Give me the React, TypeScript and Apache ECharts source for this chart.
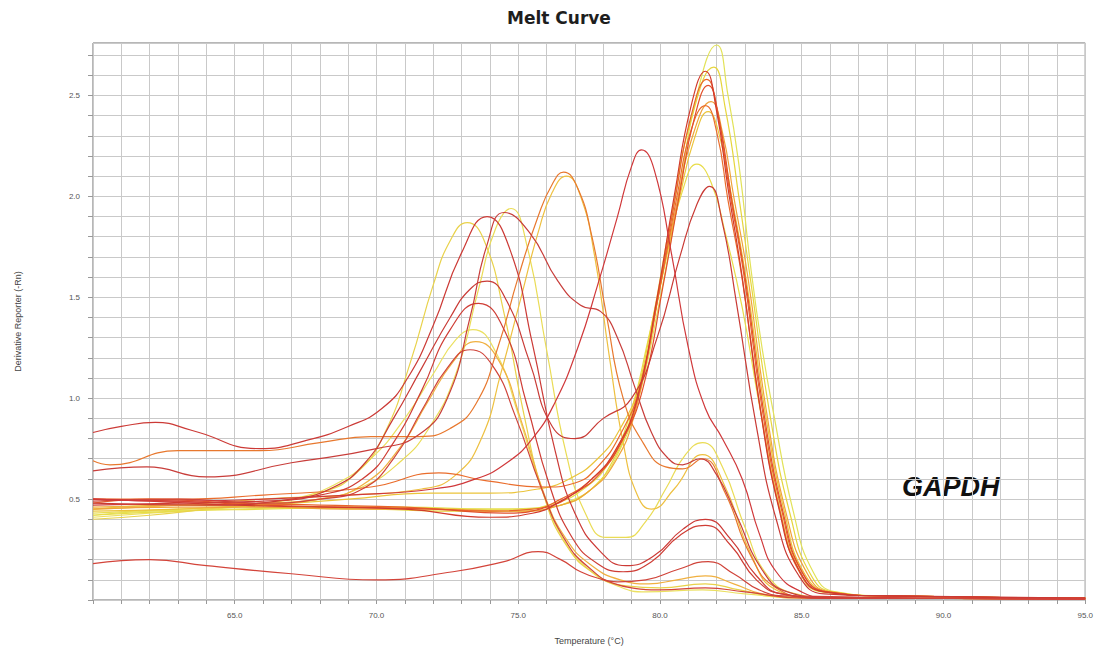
import React, { useEffect, useRef } from "react";
import * as echarts from "echarts";

type Pt = [number, number];

// ---- data: [temperature °C, derivative reporter] ----
const gapdhA: Pt[] = [[60,0.42],[62,0.44],[65,0.45],[68,0.46],[71,0.46],[74,0.45],[76,0.46],[77,0.5],[77.8,0.58],[78.5,0.72],[79.2,0.98],[79.9,1.42],[80.6,1.95],[81.3,2.5],[82.0,2.75],[82.4,2.5],[82.8,2.14],[83.2,1.65],[83.6,1.25],[84.0,0.93],[84.7,0.44],[85.4,0.14],[86.2,0.04],[88,0.02],[95,0.01]];
const gapdhB: Pt[] = [[60,0.45],[63,0.47],[66,0.46],[70,0.45],[73,0.44],[75,0.44],[76.5,0.47],[77.5,0.54],[78.3,0.68],[79.0,0.92],[79.7,1.36],[80.4,1.9],[81.1,2.38],[81.9,2.64],[82.3,2.44],[82.8,1.98],[83.2,1.58],[83.9,0.9],[84.6,0.42],[85.3,0.13],[86.1,0.04],[88,0.02],[95,0.01]];
const gapdhC: Pt[] = [[60,0.5],[62,0.49],[65,0.47],[68,0.46],[71,0.45],[74,0.41],[75.5,0.43],[76.5,0.49],[77.6,0.6],[78.5,0.76],[79.2,1.0],[79.9,1.5],[80.5,2.0],[81.1,2.45],[81.6,2.62],[82.0,2.42],[82.4,2.04],[82.9,1.6],[83.5,0.98],[84.2,0.45],[84.9,0.15],[85.8,0.04],[88,0.02],[95,0.01]];
const gapdhD: Pt[] = [[60,0.48],[62,0.5],[65,0.48],[68,0.47],[71,0.46],[74,0.44],[75.5,0.45],[76.5,0.5],[77.6,0.6],[78.5,0.75],[79.2,0.99],[79.9,1.48],[80.5,1.96],[81.1,2.4],[81.65,2.58],[82.05,2.4],[82.45,2.03],[82.95,1.62],[83.6,0.95],[84.3,0.44],[85.0,0.14],[85.9,0.04],[88,0.02],[95,0.01]];
const gapdhE: Pt[] = [[60,0.5],[63,0.49],[66,0.47],[69,0.46],[72,0.45],[74.5,0.43],[76,0.46],[77,0.53],[77.9,0.63],[78.7,0.8],[79.4,1.05],[80.1,1.55],[80.7,2.02],[81.2,2.38],[81.7,2.55],[82.1,2.37],[82.5,2.01],[83.0,1.6],[83.65,0.94],[84.35,0.43],[85.05,0.13],[85.9,0.04],[88,0.02],[95,0.01]];
const gapdhF: Pt[] = [[60,0.45],[63,0.46],[66,0.46],[69,0.45],[72,0.45],[75,0.44],[76.5,0.47],[77.5,0.54],[78.4,0.68],[79.1,0.92],[79.8,1.4],[80.5,1.9],[81.2,2.32],[81.8,2.47],[82.2,2.32],[82.6,2.0],[83.1,1.6],[83.75,0.94],[84.45,0.43],[85.2,0.13],[86,0.04],[88,0.02],[95,0.01]];
const gapdhG: Pt[] = [[60,0.5],[63,0.5],[66,0.52],[69.8,0.56],[72.2,0.63],[73.9,0.59],[76.0,0.56],[77.0,0.58],[77.8,0.66],[78.6,0.82],[79.3,1.06],[80.0,1.55],[80.6,2.0],[81.1,2.33],[81.6,2.45],[82.0,2.32],[82.4,1.98],[82.9,1.59],[83.55,0.94],[84.25,0.43],[84.95,0.13],[85.8,0.04],[88,0.02],[95,0.01]];
const gapdhH: Pt[] = [[60,0.44],[63,0.45],[66,0.47],[69,0.5],[71.9,0.53],[74,0.53],[75.7,0.55],[76.8,0.6],[77.8,0.7],[78.6,0.85],[79.3,1.08],[80.0,1.55],[80.7,2.0],[81.2,2.28],[81.7,2.42],[82.1,2.3],[82.55,1.98],[83.05,1.58],[83.7,0.94],[84.4,0.43],[85.1,0.13],[86,0.04],[88,0.02],[95,0.01]];
const gapdhI: Pt[] = [[60,0.42],[63,0.44],[66,0.45],[70,0.46],[73,0.45],[75,0.45],[76.3,0.48],[77.3,0.55],[78.2,0.68],[78.9,0.9],[79.6,1.3],[80.3,1.75],[80.8,2.03],[81.3,2.16],[81.8,2.07],[82.3,1.82],[82.9,1.45],[83.5,0.97],[84.2,0.47],[84.9,0.15],[85.7,0.04],[88,0.02],[95,0.01]];
const doubleJ: Pt[] = [[60,0.48],[64,0.47],[67,0.5],[68.5,0.56],[69.6,0.68],[70.6,0.9],[71.6,1.15],[72.6,1.4],[73.3,1.54],[73.9,1.58],[74.6,1.48],[75.4,1.18],[76.2,0.86],[77.0,0.8],[78.0,0.9],[79.0,1.0],[79.9,1.3],[80.7,1.7],[81.3,1.96],[81.75,2.05],[82.2,1.87],[82.7,1.47],[83.4,0.86],[84.1,0.4],[84.9,0.12],[85.8,0.03],[88,0.02],[95,0.01]];
const dimerA: Pt[] = [[60,0.40],[62,0.42],[64,0.45],[66,0.48],[68,0.53],[69.3,0.63],[70.3,0.83],[71.2,1.18],[72.0,1.56],[72.6,1.78],[73.2,1.87],[73.8,1.78],[74.5,1.42],[75.2,0.92],[75.9,0.52],[76.7,0.27],[77.7,0.13],[78.8,0.07],[80,0.06],[81.6,0.08],[82.8,0.05],[84,0.02],[86,0.01],[95,0.005]];
const dimerB: Pt[] = [[60,0.83],[61,0.86],[62.2,0.88],[63.5,0.84],[65.9,0.75],[67.5,0.79],[69,0.86],[70.2,0.95],[71.1,1.1],[72.0,1.36],[73.0,1.72],[73.9,1.90],[74.7,1.74],[75.5,1.27],[76.3,0.74],[77.0,0.43],[77.9,0.24],[78.8,0.17],[79.8,0.22],[80.8,0.35],[81.6,0.40],[82.5,0.3],[83.4,0.12],[84.3,0.03],[86,0.01],[95,0.005]];
const shoulderC: Pt[] = [[60,0.64],[61.9,0.66],[64,0.61],[67,0.68],[70,0.75],[71.5,0.82],[72.5,1.0],[73.3,1.4],[73.9,1.76],[74.5,1.92],[75.4,1.82],[76.4,1.58],[77.2,1.46],[77.9,1.43],[78.5,1.3],[79.1,1.06],[79.7,0.83],[80.3,0.7],[80.8,0.67],[81.4,0.7],[82.0,0.62],[82.7,0.42],[83.6,0.15],[84.5,0.04],[86,0.01],[95,0.005]];
const dimerD: Pt[] = [[60,0.43],[63,0.45],[66,0.47],[68,0.5],[69.5,0.56],[70.8,0.68],[71.8,0.84],[72.8,1.12],[73.6,1.54],[74.2,1.84],[74.75,1.94],[75.3,1.76],[76.0,1.24],[76.7,0.72],[77.4,0.42],[78.1,0.31],[78.8,0.31],[79.5,0.39],[80.2,0.55],[80.9,0.72],[81.5,0.78],[82.2,0.66],[83.0,0.36],[83.8,0.12],[84.8,0.03],[86,0.01],[95,0.005]];
const dimerE: Pt[] = [[60,0.47],[63,0.48],[66,0.49],[68,0.52],[69.5,0.6],[70.6,0.78],[71.6,1.04],[72.6,1.34],[73.6,1.47],[74.5,1.34],[75.3,0.97],[76.1,0.57],[76.9,0.31],[77.8,0.18],[78.7,0.14],[79.7,0.19],[80.7,0.32],[81.6,0.37],[82.5,0.27],[83.4,0.1],[84.3,0.03],[86,0.01],[95,0.005]];
const dimerF: Pt[] = [[60,0.41],[62,0.43],[65,0.46],[67,0.5],[68.5,0.57],[69.8,0.7],[71,0.9],[72,1.12],[72.8,1.29],[73.4,1.34],[74.2,1.23],[75,0.92],[75.8,0.56],[76.6,0.3],[77.5,0.15],[78.5,0.07],[79.5,0.04],[81.5,0.05],[83,0.03],[85,0.01],[95,0.005]];
const dimerG: Pt[] = [[60,0.46],[63,0.47],[66,0.48],[68,0.5],[69.5,0.57],[70.8,0.75],[71.8,0.98],[72.7,1.18],[73.5,1.28],[74.3,1.19],[75.1,0.89],[75.9,0.53],[76.7,0.3],[77.6,0.17],[78.6,0.1],[79.6,0.08],[80.6,0.1],[81.6,0.12],[82.6,0.08],[83.6,0.03],[85,0.01],[95,0.005]];
const dimerH: Pt[] = [[60,0.49],[63,0.5],[66,0.48],[68,0.5],[69.5,0.55],[70.6,0.7],[71.6,0.94],[72.5,1.15],[73.3,1.24],[74.1,1.16],[74.9,0.91],[75.8,0.56],[76.6,0.31],[77.5,0.16],[78.5,0.09],[79.5,0.1],[80.6,0.15],[81.7,0.19],[82.6,0.13],[83.5,0.05],[84.5,0.02],[95,0.005]];
const midPeakK: Pt[] = [[60,0.69],[60.6,0.67],[63,0.74],[65.9,0.74],[68,0.78],[69.8,0.81],[71.5,0.81],[72.6,0.85],[73.5,0.97],[74.3,1.26],[75.0,1.6],[75.7,1.9],[76.2,2.06],[76.6,2.12],[77.1,2.04],[77.6,1.8],[78.1,1.42],[78.7,1.0],[79.4,0.78],[80.2,0.66],[80.8,0.65],[81.5,0.7],[82.3,0.53],[83.2,0.22],[84.1,0.06],[85.5,0.01],[95,0.005]];
const midPeakL: Pt[] = [[60,0.45],[63,0.47],[66,0.5],[69,0.52],[71.6,0.55],[72.8,0.62],[73.7,0.8],[74.4,1.13],[75.1,1.5],[75.7,1.82],[76.2,2.02],[76.7,2.10],[77.2,2.0],[77.7,1.7],[78.2,1.22],[78.7,0.78],[79.2,0.52],[79.7,0.45],[80.5,0.55],[81.5,0.72],[82.3,0.56],[83.2,0.23],[84.1,0.05],[85.5,0.01],[95,0.005]];
const latePeakM: Pt[] = [[60,0.5],[63,0.49],[66,0.5],[69,0.52],[72,0.55],[73.5,0.6],[74.6,0.68],[75.5,0.8],[76.3,0.98],[77.1,1.25],[77.8,1.56],[78.5,1.9],[79.0,2.15],[79.35,2.23],[79.8,2.13],[80.4,1.72],[81.0,1.25],[81.6,0.95],[82.2,0.8],[82.9,0.6],[83.5,0.33],[84.1,0.14],[85,0.04],[86,0.01],[95,0.005]];
const lowN: Pt[] = [[60,0.18],[62,0.2],[64,0.17],[67,0.13],[70,0.10],[72.7,0.14],[74.5,0.19],[75.7,0.24],[76.5,0.2],[77.2,0.14],[78.0,0.10],[79,0.06],[80,0.05],[81.6,0.06],[83,0.04],[85,0.01],[95,0.005]];

const xTicks = [65, 70, 75, 80, 85, 90, 95];
const yTicks = [0.5, 1.0, 1.5, 2.0, 2.5];

const curves: { data: Pt[]; color: string }[] = [
  { data: dimerF, color: "#ebe060" },
  { data: gapdhA, color: "#e2e258" },
  { data: gapdhI, color: "#e8dc48" },
  { data: dimerA, color: "#e9d24a" },
  { data: dimerD, color: "#eadc55" },
  { data: gapdhB, color: "#e6d53c" },
  { data: gapdhH, color: "#ebc43a" },
  { data: midPeakL, color: "#eec040" },
  { data: dimerG, color: "#f0b040" },
  { data: gapdhF, color: "#efa23a" },
  { data: midPeakK, color: "#e8782e" },
  { data: gapdhG, color: "#ea6d2c" },
  { data: gapdhD, color: "#e9652a" },
  { data: gapdhE, color: "#e2502b" },
  { data: gapdhC, color: "#d23a2c" },
  { data: doubleJ, color: "#c93a35" },
  { data: dimerB, color: "#cc3a36" },
  { data: shoulderC, color: "#c83d3a" },
  { data: dimerE, color: "#cf3d35" },
  { data: dimerH, color: "#d0443a" },
  { data: latePeakM, color: "#d0383a" },
  { data: lowN, color: "#d3443a" },
];

export default function App() {
  const ref = useRef<HTMLDivElement>(null);
  useEffect(() => {
    if (!ref.current) return;
    const chart = echarts.init(ref.current, undefined, { renderer: "svg" });
    const labelFont = { fontSize: 8, color: "#555", fontFamily: "Liberation Sans" };
    chart.setOption({
      animation: false,
      backgroundColor: "#fff",
      grid: { left: 93, right: 10, top: 43, bottom: 49, show: true, borderColor: "#6e6e6e", borderWidth: 1 },
      xAxis: {
        type: "value",
        min: 60,
        max: 95,
        interval: 1,
        axisLine: { show: false },
        axisTick: { show: true, length: 4, lineStyle: { color: "#999" } },
        axisLabel: {
          ...labelFont,
          margin: 11,
          showMaxLabel: true,
          formatter: (v: number) => (xTicks.includes(Math.round(v)) ? v.toFixed(1) : ""),
        },
        splitLine: { show: true, lineStyle: { color: "#c9c9c9", width: 1 } },
        name: "Temperature (°C)",
        nameLocation: "middle",
        nameGap: 36,
        nameTextStyle: { fontSize: 9, color: "#444", fontFamily: "Liberation Sans" },
      },
      yAxis: {
        type: "value",
        min: 0,
        max: 2.76,
        interval: 0.1,
        axisLine: { show: false },
        axisTick: { show: true, length: 5, lineStyle: { color: "#999" } },
        axisLabel: {
          ...labelFont,
          margin: 13,
          showMaxLabel: false,
          formatter: (v: number) => {
            const r = Math.round(v * 10) / 10;
            return yTicks.some((t) => Math.abs(t - r) < 1e-6) ? r.toFixed(1) : "";
          },
        },
        splitLine: { show: true, lineStyle: { color: "#c9c9c9", width: 1 } },
        name: "Derivative Reporter (-Rn)",
        nameLocation: "middle",
        nameGap: 71,
        nameTextStyle: { fontSize: 9, color: "#444", fontFamily: "Liberation Sans" },
      },
      graphic: [
        {
          type: "text",
          left: 507,
          top: 9,
          style: { text: "Melt Curve", fontSize: 17, fontWeight: "bold", fontFamily: "DejaVu Sans", fill: "#1e1e1e" },
        },
        {
          type: "text",
          left: 902,
          top: 473,
          style: { text: "GAPDH", fontSize: 27, fontWeight: "bold", fontStyle: "italic", fontFamily: "Liberation Sans", fill: "#111" },
        },
      ],
      series: curves.map((c) => ({
        type: "line",
        data: c.data,
        showSymbol: false,
        smooth: 0.5,
        lineStyle: { color: c.color, width: 1.2 },
        silent: true,
      })),
    });
    return () => chart.dispose();
  }, []);
  return <div ref={ref} style={{ position: "fixed", left: 0, top: 0, width: 1096, height: 650 }} />;
}
